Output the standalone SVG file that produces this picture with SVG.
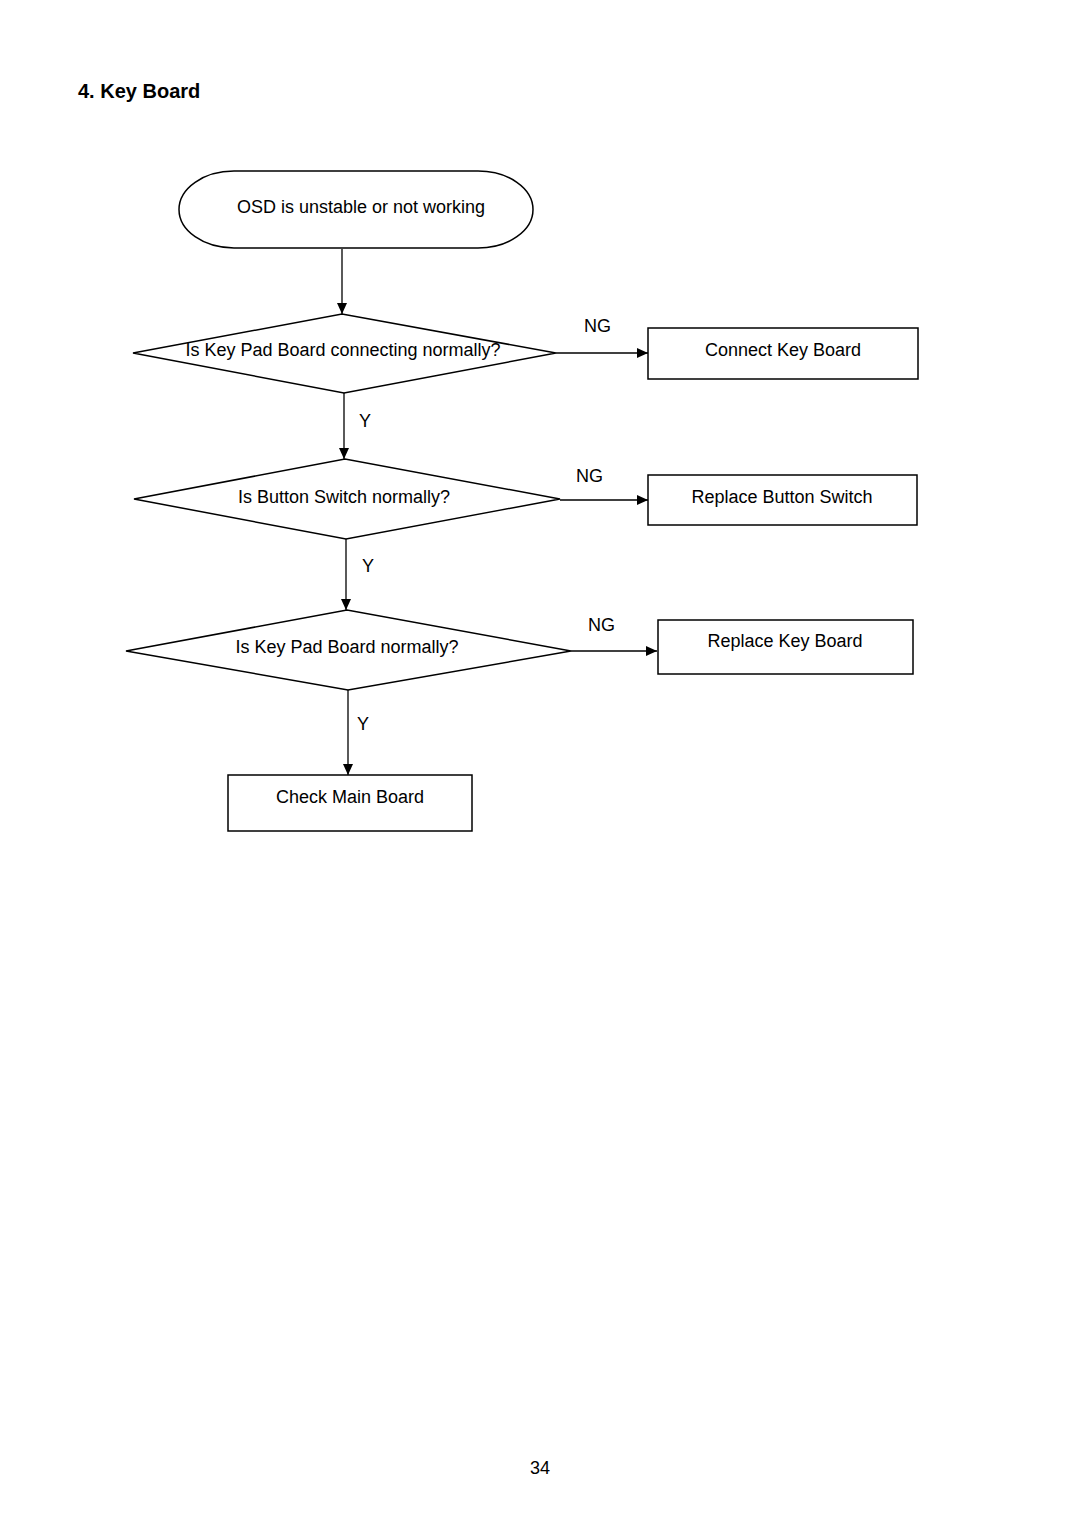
<svg xmlns="http://www.w3.org/2000/svg" width="1080" height="1528" viewBox="0 0 1080 1528">
<style>
.s{fill:#fff;stroke:#000;stroke-width:1.5}
.c{fill:none;stroke:#000;stroke-width:1.3}
.t{font-family:"Liberation Sans",Arial,sans-serif;font-size:18px;fill:#000;text-anchor:middle}
.l{font-family:"Liberation Sans",Arial,sans-serif;font-size:18px;fill:#000}
</style>
<defs>
<marker id="a" markerUnits="userSpaceOnUse" markerWidth="12" markerHeight="10" refX="11" refY="5" orient="auto">
<path d="M0,0 L11,5 L0,10 Z" fill="#000"/>
</marker>
</defs>
<rect width="1080" height="1528" fill="#fff"/>
<text x="78" y="98" style="font-family:'Liberation Sans',Arial,sans-serif;font-size:20px;font-weight:bold">4. Key Board</text>
<g id="connectors">
<line class="c" x1="342" y1="249" x2="342" y2="314" marker-end="url(#a)"/>
<line class="c" x1="556" y1="353" x2="648" y2="353" marker-end="url(#a)"/>
<line class="c" x1="344" y1="393" x2="344" y2="459" marker-end="url(#a)"/>
<line class="c" x1="560" y1="500" x2="648" y2="500" marker-end="url(#a)"/>
<line class="c" x1="346" y1="539" x2="346" y2="610" marker-end="url(#a)"/>
<line class="c" x1="571" y1="651" x2="657" y2="651" marker-end="url(#a)"/>
<line class="c" x1="348" y1="690" x2="348" y2="775" marker-end="url(#a)"/>
<text class="l" x="584" y="332">NG</text>
<text class="l" x="576" y="482">NG</text>
<text class="l" x="588" y="631">NG</text>
<text class="l" x="359" y="427">Y</text>
<text class="l" x="362" y="572">Y</text>
<text class="l" x="357" y="730">Y</text>
</g>
<g id="start">
<rect class="s" x="179" y="171" width="354" height="77" rx="55" ry="38.5"/>
<text class="t" x="361" y="213">OSD is unstable or not working</text>
</g>
<g id="d1">
<polygon class="s" points="133,353 342,314 556,353 344,393"/>
<text class="t" x="343" y="356">Is Key Pad Board connecting normally?</text>
</g>
<g id="r1">
<rect class="s" x="648" y="328" width="270" height="51"/>
<text class="t" x="783" y="356">Connect Key Board</text>
</g>
<g id="d2">
<polygon class="s" points="134,499 345,459 560,499 346,539"/>
<text class="t" x="344" y="503">Is Button Switch normally?</text>
</g>
<g id="r2">
<rect class="s" x="648" y="475" width="269" height="50"/>
<text class="t" x="782" y="503">Replace Button Switch</text>
</g>
<g id="d3">
<polygon class="s" points="126,651 347,610 571,651 348,690"/>
<text class="t" x="347" y="653">Is Key Pad Board normally?</text>
</g>
<g id="r3">
<rect class="s" x="658" y="620" width="255" height="54"/>
<text class="t" x="785" y="647">Replace Key Board</text>
</g>
<g id="r4">
<rect class="s" x="228" y="775" width="244" height="56"/>
<text class="t" x="350" y="803">Check Main Board</text>
</g>
<text class="t" x="540" y="1474">34</text>
</svg>
